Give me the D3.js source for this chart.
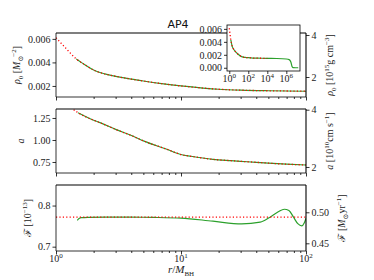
<!DOCTYPE html>
<html><head><meta charset="utf-8">
<script src="https://cdn.jsdelivr.net/npm/d3@7"></script>
<style>
body{margin:0;background:#fff}
svg{display:block}
</style></head><body>
<div id="chart"></div>
<script>
// density rho_0 [M_sun^-2] along r/M_BH
const rRho = [1, 1.2, 1.45, 1.7, 2, 2.5, 3, 4, 5, 7, 10, 15, 20, 30, 50, 70, 100, 300, 1e3, 1e4, 1e5, 1e6, 2e6, 3e6, 4e6, 5e6, 1e7, 1.8e7]
const rhoVals = [0.0061, 0.0052, 0.0043, 0.0038, 0.00335, 0.0030, 0.00282, 0.00258, 0.00242, 0.0022, 0.002, 0.00182, 0.00172, 0.00164, 0.00159, 0.00157, 0.00155, 0.0015, 0.00148, 0.00145, 0.00143, 0.00135, 0.00125, 0.0009, 0.0002, 0.00002, 0, 0]
const rhoRedMax = 1e4, rhoGreenMin = 1.45

// sound speed a
const rA = [1.2, 1.38, 1.5, 2, 2.25, 3, 4.15, 5, 7.7, 10, 12, 18, 25, 34, 50, 70, 100]
const aVals = [1.42, 1.345, 1.31, 1.225, 1.197, 1.12, 1.042, 0.99, 0.895, 0.835, 0.815, 0.78, 0.765, 0.753, 0.737, 0.725, 0.716]
const aGreenMin = 1.42

// accretion rate F [1e-13]
const fluxRed = 0.7717
const rFlux = [1.48, 1.52, 1.6, 1.8, 2.5, 4, 6, 10, 18, 30.6, 43, 51.5, 60, 67, 73, 79, 86, 92.4, 97, 100]
const fluxGreen = [0.764, 0.768, 0.7705, 0.7715, 0.772, 0.7718, 0.7712, 0.7695, 0.762, 0.7554, 0.7595, 0.7717, 0.785, 0.791, 0.788, 0.773, 0.756, 0.7505, 0.758, 0.769]

const xMajor = [1, 10, 100]
const xMinor = [2, 3, 4, 5, 6, 7, 8, 9, 20, 30, 40, 50, 60, 70, 80, 90]
const insetXTicks = [1, 1e2, 1e4, 1e6]
const insetYTicks = [0, 0.002, 0.004, 0.006]

const width = 374, height = 280
const L = 56, R = 306
const red = "#ff0000", green = "#2ca02c"
const serif = "'Liberation Serif', 'DejaVu Serif', serif"

const svg = d3.select("#chart").append("svg").attr("width", width).attr("height", height)
const x = d3.scaleLog().domain([1, 100]).range([L, R])

function rich(sel, parts) {
  let shift = 0
  for (const p of parts) {
    const t = sel.append("tspan").text(p.t)
    const target = p.sup ? -4 : p.sub ? 2.5 : 0
    t.attr("dy", target - shift)
    if (p.dx) t.attr("dx", p.dx)
    shift = target
    if (p.sup || p.sub) t.style("font-size", "7px")
    if (p.i) t.style("font-style", "italic")
    if (p.f) t.style("font-family", p.f)
  }
}

function styleAxis(g) {
  g.select(".domain").remove()
  g.selectAll(".tick line").attr("stroke", "#000").attr("stroke-width", 0.8)
}

const panels = [
  { top: 33, bottom: 97, y: [0.00106, 0.0065], yr: [1.048, 4.095],
    lt: [0.002, 0.004, 0.006], lf: ".3f", rt: [2, 4], rf: "d" },
  { top: 109, bottom: 173, y: [0.625, 1.352], yr: [1.79, 4.024],
    lt: [0.75, 1.0, 1.25], lf: ".2f", rt: [2, 4], rf: "d" },
  { top: 185, bottom: 251, y: [0.6895, 0.85], yr: [0.4376, 0.544],
    lt: [0.7, 0.8], lf: ".1f", rt: [0.45, 0.5], rf: ".2f" }
]

const line = (xs, ys) => d3.line().x(d => xs(d[0])).y(d => ys(d[1])).curve(d3.curveMonotoneX)

panels.forEach((p, i) => {
  p.ys = d3.scaleLinear().domain(p.y).range([p.bottom, p.top])
  p.yrs = d3.scaleLinear().domain(p.yr).range([p.bottom, p.top])
  svg.append("clipPath").attr("id", "clip" + i).append("rect")
    .attr("x", L).attr("y", p.top).attr("width", R - L).attr("height", p.bottom - p.top)
  p.g = svg.append("g").attr("clip-path", `url(#clip${i})`)

  const ax = svg.append("g").attr("transform", `translate(0,${p.bottom})`)
    .call(d3.axisBottom(x).tickValues(xMajor).tickSize(3.5).tickSizeOuter(0).tickFormat(""))
  styleAxis(ax)
  const axm = svg.append("g").attr("transform", `translate(0,${p.bottom})`)
    .call(d3.axisBottom(x).tickValues(xMinor).tickSize(2).tickSizeOuter(0).tickFormat(""))
  styleAxis(axm)

  const ay = svg.append("g").attr("transform", `translate(${L},0)`)
    .call(d3.axisLeft(p.ys).tickValues(p.lt).tickFormat(d3.format(p.lf)).tickSize(3.5).tickPadding(2))
  styleAxis(ay)
  const ayr = svg.append("g").attr("transform", `translate(${R},0)`)
    .call(d3.axisRight(p.yrs).tickValues(p.rt).tickFormat(d3.format(p.rf)).tickSize(3.5).tickPadding(2))
  styleAxis(ayr)
})

// top panel: density
const pairsRho = rRho.map((r, i) => [r, rhoVals[i]])
const p0 = panels[0]
p0.g.append("path").attr("fill", "none").attr("stroke", green).attr("stroke-width", 1.2)
  .attr("d", line(x, p0.ys)(pairsRho.filter(d => d[0] >= rhoGreenMin && d[0] <= 100)))
p0.g.append("path").attr("fill", "none").attr("stroke", red).attr("stroke-width", 1.3)
  .attr("stroke-dasharray", "1.2,2.2")
  .attr("d", line(x, p0.ys)(pairsRho.filter(d => d[0] <= 100)))

// middle panel: a
const pairsA = rA.map((r, i) => [r, aVals[i]])
const p1 = panels[1]
p1.g.append("path").attr("fill", "none").attr("stroke", green).attr("stroke-width", 1.2)
  .attr("d", line(x, p1.ys)(pairsA.filter(d => d[0] >= aGreenMin)))
p1.g.append("path").attr("fill", "none").attr("stroke", red).attr("stroke-width", 1.3)
  .attr("stroke-dasharray", "1.2,2.2")
  .attr("d", line(x, p1.ys)(pairsA))

// bottom panel: flux
const p2 = panels[2]
p2.g.append("path").attr("fill", "none").attr("stroke", green).attr("stroke-width", 1.2)
  .attr("d", line(x, p2.ys)(rFlux.map((r, i) => [r, fluxGreen[i]])))
p2.g.append("path").attr("fill", "none").attr("stroke", red).attr("stroke-width", 1.3)
  .attr("stroke-dasharray", "1.2,2.2")
  .attr("d", line(x, p2.ys)([[1, fluxRed], [100, fluxRed]]))

// frames
panels.forEach(p => {
  svg.append("line").attr("x1", L).attr("x2", L).attr("y1", p.top).attr("y2", p.bottom).attr("stroke", "#000").attr("stroke-width", 0.8)
  svg.append("line").attr("x1", L).attr("x2", R).attr("y1", p.bottom).attr("y2", p.bottom).attr("stroke", "#000").attr("stroke-width", 0.8)
  svg.append("line").attr("x1", L).attr("x2", R).attr("y1", p.top).attr("y2", p.top).attr("stroke", "#000").attr("stroke-width", 1.1)
  svg.append("line").attr("x1", R).attr("x2", R).attr("y1", p.top).attr("y2", p.bottom).attr("stroke", "#000").attr("stroke-width", 1.1)
})

// x tick labels on bottom panel
xMajor.forEach((v, i) => {
  const t = svg.append("text").attr("x", x(v)).attr("y", 262).attr("text-anchor", "middle")
  rich(t, [{ t: "10" }, { t: String(i), sup: true }])
})

// inset
const inset = { l: 227, r: 300, t: 25, b: 71 }
const xi = d3.scaleLog().domain([Math.pow(10, -0.24), Math.pow(10, 7.44)]).range([inset.l, inset.r])
const yi = d3.scaleLinear().domain([-0.0005, 0.0066]).range([inset.b, inset.t])
svg.append("rect").attr("x", inset.l).attr("y", inset.t).attr("width", inset.r - inset.l).attr("height", inset.b - inset.t)
  .attr("fill", "#fff")
svg.append("clipPath").attr("id", "clipIn").append("rect")
  .attr("x", inset.l).attr("y", inset.t).attr("width", inset.r - inset.l).attr("height", inset.b - inset.t)
const gi = svg.append("g").attr("clip-path", "url(#clipIn)")
gi.append("path").attr("fill", "none").attr("stroke", green).attr("stroke-width", 1.2)
  .attr("d", line(xi, yi)(pairsRho.filter(d => d[0] >= rhoGreenMin)))
gi.append("path").attr("fill", "none").attr("stroke", red).attr("stroke-width", 1.3)
  .attr("stroke-dasharray", "1.2,2.2")
  .attr("d", line(xi, yi)(pairsRho.filter(d => d[0] <= rhoRedMax)))
svg.append("rect").attr("x", inset.l).attr("y", inset.t).attr("width", inset.r - inset.l).attr("height", inset.b - inset.t)
  .attr("fill", "none").attr("stroke", "#000").attr("stroke-width", 0.8)
const aix = svg.append("g").attr("transform", `translate(0,${inset.b})`)
  .call(d3.axisBottom(xi).tickValues(insetXTicks).tickSize(3).tickFormat(""))
styleAxis(aix)
insetXTicks.forEach(v => {
  const t = svg.append("text").attr("x", xi(v)).attr("y", 82).attr("text-anchor", "middle")
  rich(t, [{ t: "10" }, { t: String(Math.round(Math.log10(v))), sup: true }])
})
const aiy = svg.append("g").attr("transform", `translate(${inset.l},0)`)
  .call(d3.axisLeft(yi).tickValues(insetYTicks).tickFormat(d3.format(".3f")).tickSize(3).tickPadding(2))
styleAxis(aiy)

// axis labels
const lab = (xp, yp, parts) => {
  const t = svg.append("text").attr("transform", `translate(${xp},${yp}) rotate(-90)`).attr("text-anchor", "middle")
  rich(t, parts)
}
lab(20, 65, [{ t: "ρ", i: true }, { t: "0", sub: true }, { t: " [" }, { t: "M", i: true }, { t: "⊙", sub: true }, { t: "−2", sup: true, dx: -1 }, { t: "]" }])
lab(24, 141, [{ t: "a", i: true }])
lab(31, 218, [{ t: "ℱ", f: "'DejaVu Serif'" }, { t: " [10" }, { t: "−13", sup: true }, { t: "]" }])
lab(333, 65, [{ t: "ρ", i: true }, { t: "0", sub: true }, { t: " [10" }, { t: "15", sup: true }, { t: "g cm" }, { t: "−3", sup: true }, { t: "]" }])
lab(333, 141, [{ t: "a", i: true }, { t: " [10" }, { t: "10", sup: true }, { t: "cm s" }, { t: "−1", sup: true }, { t: "]" }])
lab(345, 218, [{ t: "ℱ", f: "'DejaVu Serif'" }, { t: " [" }, { t: "M", i: true }, { t: "⊙", sub: true }, { t: "yr" }, { t: "−1", sup: true }, { t: "]" }])

const xl = svg.append("text").attr("x", 181).attr("y", 273).attr("text-anchor", "middle").style("font-size", "11px")
rich(xl, [{ t: "r", i: true }, { t: "/" }, { t: "M", i: true }, { t: "BH", sub: true }])

// serif look for every label and tick, set inline so axis defaults don't win
svg.selectAll("text").style("font-family", function () { return this.style.fontFamily || serif })
  .style("font-size", function () { return this.style.fontSize || "10px" }).attr("fill", "#222")

svg.append("text").attr("x", 178).attr("y", 28).attr("text-anchor", "middle")
  .style("font-family", "'DejaVu Sans', sans-serif").style("font-size", "11px").attr("fill", "#111").text("AP4")
</script>
</body></html>
